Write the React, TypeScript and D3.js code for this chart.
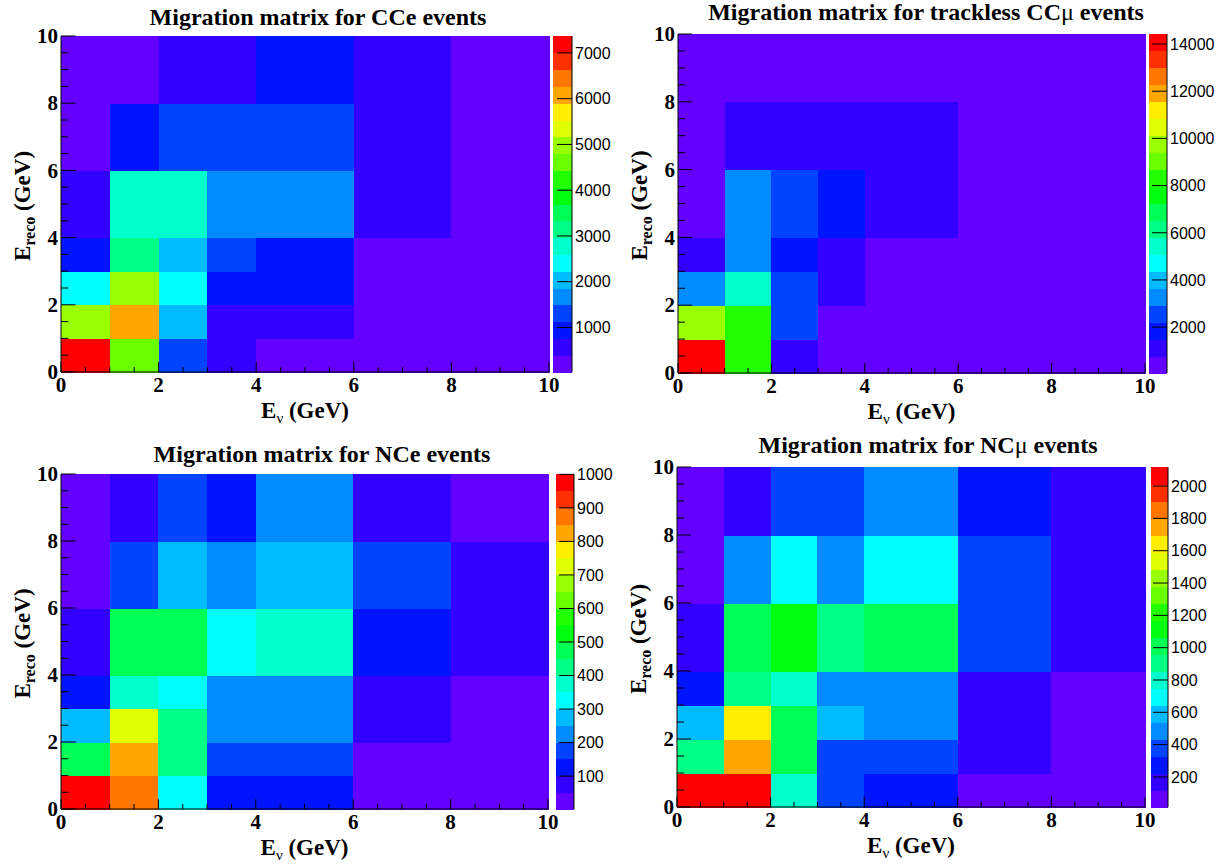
import * as d3 from "d3";

// bin edges, same for E_nu (x) and E_reco (y)
const binEdges = [0, 1, 2, 3, 4, 6, 8, 10];
const axisLabels = [0, 2, 4, 6, 8, 10];

// bin contents: one row per E_reco bin, lowest (0-1 GeV) first,
// columns follow the E_nu bins
const cceCounts = [
  [7370, 4610, 1310, 560, 210, 95, 26],
  [4980, 6080, 2050, 620, 540, 260, 120],
  [2410, 4990, 2420, 950, 900, 300, 150],
  [940, 3120, 2040, 1300, 960, 330, 170],
  [580, 2780, 2760, 1680, 1700, 600, 240],
  [290, 950, 1320, 1290, 1310, 610, 230],
  [180, 250, 570, 600, 930, 520, 160],
];

const ccmuCounts = [
  [14425, 8300, 1130, 420, 260, 120, 55],
  [9750, 8320, 2560, 610, 380, 160, 70],
  [3290, 5440, 2580, 1120, 560, 210, 90],
  [1150, 3300, 1850, 1100, 480, 230, 100],
  [640, 3280, 2560, 1860, 1140, 480, 150],
  [420, 1120, 1150, 1130, 1100, 500, 170],
  [230, 340, 420, 450, 470, 330, 140],
];

const nceCounts = [
  [1001, 875, 330, 125, 128, 30, 2],
  [475, 825, 425, 178, 175, 40, 12],
  [278, 725, 428, 225, 228, 78, 30],
  [128, 378, 330, 228, 226, 80, 38],
  [76, 478, 480, 328, 380, 128, 80],
  [38, 178, 280, 228, 276, 175, 78],
  [30, 80, 178, 128, 226, 76, 45],
];

const ncmuCounts = [
  [2118, 2060, 800, 380, 280, 70, 14],
  [905, 1750, 1010, 385, 382, 175, 65],
  [590, 1645, 1015, 595, 490, 172, 60],
  [275, 910, 805, 488, 490, 170, 70],
  [170, 1012, 1120, 908, 1010, 380, 172],
  [68, 488, 698, 485, 700, 383, 175],
  [72, 170, 385, 380, 490, 280, 178],
];

// colour bar tick labels
const cceTicks = [1000, 2000, 3000, 4000, 5000, 6000, 7000];
const ccmuTicks = [2000, 4000, 6000, 8000, 10000, 12000, 14000];
const nceTicks = [100, 200, 300, 400, 500, 600, 700, 800, 900, 1000];
const ncmuTicks = [200, 400, 600, 800, 1000, 1200, 1400, 1600, 1800, 2000];

const titles = [
  "Migration matrix for CCe events",
  "Migration matrix for trackless CC\u03bc events",
  "Migration matrix for NCe events",
  "Migration matrix for NC\u03bc events",
];

const nLevels = 20;
const serif = "'Liberation Serif', 'Times New Roman', serif";
const sans = "'Liberation Sans', Arial, sans-serif";

// ROOT "pretty" palette (50 hues violet -> red) sampled by 20 contours
const levelColor = (k) => {
  const idx = Math.floor(((k + 0.99) * 50) / nLevels);
  return d3.hsl(280 - (idx + 1) * 5.6, 1, 0.5).formatHex();
};

// greek letters are drawn from a non bold font, like ROOT's #mu / #nu
function Greek({ text }) {
  const parts = text.split(/([\u03bc\u03bd])/);
  return parts.map((p, i) =>
    /[\u03bc\u03bd]/.test(p) ? (
      <tspan key={i} fontWeight="normal">{p}</tspan>
    ) : (
      <tspan key={i}>{p}</tspan>
    )
  );
}

function Panel({ title, counts, zTicks, frame }) {
  const { left, right, top, bottom, barLeft, barRight, titleX, titleY } = frame;

  const x = d3.scaleLinear().domain([0, 10]).range([left, right]);
  const y = d3.scaleLinear().domain([0, 10]).range([bottom, top]);

  const [zmin, zmax] = d3.extent(counts.flat());
  const level = d3.scaleQuantize().domain([zmin, zmax]).range(d3.range(nLevels));
  const z = d3.scaleLinear().domain([zmin, zmax]).range([bottom, top]);

  const minor = d3.range(0, 10.001, 0.5).filter((t) => !axisLabels.includes(t));
  const xTickLen = 0.03 * (bottom - top);
  const yTickLen = 0.03 * (right - left);

  return (
    <g>
      <text x={titleX} y={titleY} textAnchor="middle" fontFamily={serif}
        fontWeight="bold" fontSize={24}>
        <Greek text={title} />
      </text>

      {/* bins */}
      <g shapeRendering="crispEdges">
        {counts.map((row, j) =>
          row.map((v, i) => (
            <rect
              key={`${i}-${j}`}
              x={x(binEdges[i])}
              y={y(binEdges[j + 1])}
              width={x(binEdges[i + 1]) - x(binEdges[i]) + 0.5}
              height={y(binEdges[j]) - y(binEdges[j + 1]) + 0.5}
              fill={levelColor(level(v))}
            />
          ))
        )}
      </g>

      {/* x axis */}
      <line x1={left} x2={right} y1={bottom} y2={bottom} stroke="black" />
      {axisLabels.map((t) => (
        <g key={t}>
          <line x1={x(t)} x2={x(t)} y1={bottom} y2={bottom - xTickLen} stroke="black" />
          <text x={x(t)} y={bottom + 20} textAnchor="middle" fontFamily={serif}
            fontWeight="bold" fontSize={21}>{t}</text>
        </g>
      ))}
      {minor.map((t) => (
        <line key={t} x1={x(t)} x2={x(t)} y1={bottom} y2={bottom - xTickLen / 2} stroke="black" />
      ))}
      <text x={(left + right) / 2} y={bottom + 46} textAnchor="middle" fontFamily={serif}
        fontWeight="bold" fontSize={23}>
        E<tspan fontSize={15} fontWeight="normal" dy={5}>{"\u03bd"}</tspan>
        <tspan dy={-5}> (GeV)</tspan>
      </text>

      {/* y axis */}
      <line x1={left} x2={left} y1={top} y2={bottom} stroke="black" />
      {axisLabels.map((t) => (
        <g key={t}>
          <line x1={left} x2={left + yTickLen} y1={y(t)} y2={y(t)} stroke="black" />
          <text x={left - 3} y={y(t)} dy="0.34em" textAnchor="end" fontFamily={serif}
            fontWeight="bold" fontSize={21}>{t}</text>
        </g>
      ))}
      {minor.map((t) => (
        <line key={t} x1={left} x2={left + yTickLen / 2} y1={y(t)} y2={y(t)} stroke="black" />
      ))}
      <text transform={`translate(${left - 31},${(top + bottom) / 2 + 2}) rotate(-90)`}
        textAnchor="middle" fontFamily={serif} fontWeight="bold" fontSize={23}>
        E<tspan fontSize={16} dy={5}>reco</tspan>
        <tspan dy={-5}> (GeV)</tspan>
      </text>

      {/* colour bar */}
      <g shapeRendering="crispEdges">
        {d3.range(nLevels).map((k) => {
          const [a, b] = level.invertExtent(k);
          return (
            <rect key={k} x={barLeft} width={barRight - barLeft} y={z(b)}
              height={z(a) - z(b) + 0.5} fill={levelColor(k)} />
          );
        })}
      </g>
      <line x1={barRight} x2={barRight} y1={top} y2={bottom} stroke="black" />
      {zTicks.map((t) => (
        <g key={t}>
          <line x1={barRight - 15} x2={barRight} y1={z(t)} y2={z(t)} stroke="black" />
          <text x={barRight + 3} y={z(t)} dy="0.36em" fontFamily={sans} fontSize={16}>
            {t}
          </text>
        </g>
      ))}
    </g>
  );
}

export default function App() {
  const panels = [
    { title: titles[0], counts: cceCounts, zTicks: cceTicks,
      frame: { left: 61, right: 549, top: 36, bottom: 372, barLeft: 553, barRight: 572, titleX: 318, titleY: 25 } },
    { title: titles[1], counts: ccmuCounts, zTicks: ccmuTicks,
      frame: { left: 678, right: 1145, top: 34, bottom: 373, barLeft: 1149, barRight: 1167, titleX: 926, titleY: 20 } },
    { title: titles[2], counts: nceCounts, zTicks: nceTicks,
      frame: { left: 61, right: 548, top: 474, bottom: 809, barLeft: 556, barRight: 574, titleX: 322, titleY: 462 } },
    { title: titles[3], counts: ncmuCounts, zTicks: ncmuTicks,
      frame: { left: 677, right: 1145, top: 467, bottom: 807, barLeft: 1151, barRight: 1168, titleX: 928, titleY: 453 } },
  ];

  return (
    <svg width={1226} height={865}
      style={{ position: "absolute", left: 0, top: 0, display: "block", background: "white" }}>
      {panels.map((p, i) => (
        <Panel key={i} {...p} />
      ))}
    </svg>
  );
}
